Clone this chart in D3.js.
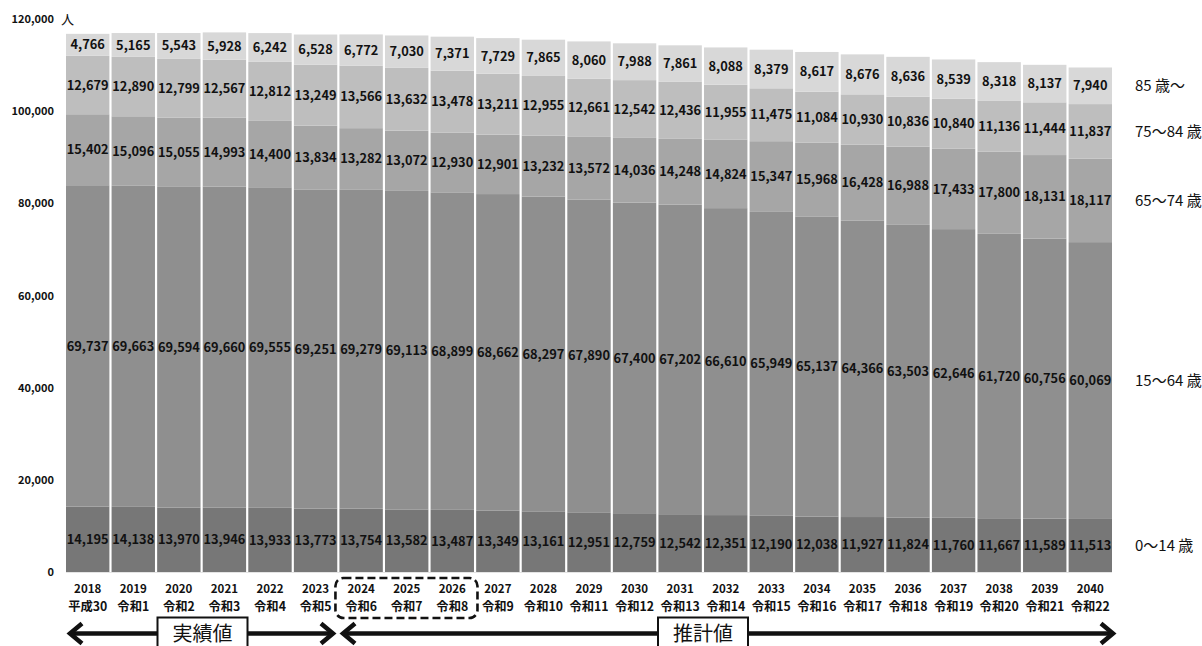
<!DOCTYPE html>
<html>
<head>
<meta charset="utf-8">
<script src="https://cdn.jsdelivr.net/npm/d3@7"></script>
<style>
  html, body { margin: 0; padding: 0; background: #fff; }
  svg { display: block; font-family: "Noto Sans CJK JP", "Noto Sans", sans-serif; }
</style>
</head>
<body>
<svg id="chart" width="1202" height="646"></svg>
<script>
// Population by age group, 2018–2040 (actual to 2023, projected afterwards)
const years = ["2018","2019","2020","2021","2022","2023","2024","2025","2026","2027","2028","2029","2030","2031","2032","2033","2034","2035","2036","2037","2038","2039","2040"];
const eras = ["平成30","令和1","令和2","令和3","令和4","令和5","令和6","令和7","令和8","令和9","令和10","令和11","令和12","令和13","令和14","令和15","令和16","令和17","令和18","令和19","令和20","令和21","令和22"];

const age0to14 = [14195,14138,13970,13946,13933,13773,13754,13582,13487,13349,13161,12951,12759,12542,12351,12190,12038,11927,11824,11760,11667,11589,11513];
const age15to64 = [69737,69663,69594,69660,69555,69251,69279,69113,68899,68662,68297,67890,67400,67202,66610,65949,65137,64366,63503,62646,61720,60756,60069];
const age65to74 = [15402,15096,15055,14993,14400,13834,13282,13072,12930,12901,13232,13572,14036,14248,14824,15347,15968,16428,16988,17433,17800,18131,18117];
const age75to84 = [12679,12890,12799,12567,12812,13249,13566,13632,13478,13211,12955,12661,12542,12436,11955,11475,11084,10930,10836,10840,11136,11444,11837];
const age85plus = [4766,5165,5543,5928,6242,6528,6772,7030,7371,7729,7865,8060,7988,7861,8088,8379,8617,8676,8636,8539,8318,8137,7940];

const seriesKeys = ["a0", "a15", "a65", "a75", "a85"];
const seriesNames = ["0～14 歳", "15～64 歳", "65～74 歳", "75～84 歳", "85 歳～"];
const seriesColors = ["#777777", "#8f8f8f", "#a6a6a6", "#bebebe", "#d8d8d8"];

const yTicks = [0, 20000, 40000, 60000, 80000, 100000, 120000];
const unitLabel = "人";
const actualLabel = "実績値";
const projectedLabel = "推計値";
const highlightYears = ["2024", "2026"];

const rows = years.map((y, i) => ({
  year: y, era: eras[i],
  a0: age0to14[i], a15: age15to64[i], a65: age65to74[i], a75: age75to84[i], a85: age85plus[i]
}));

const svg = d3.select("#chart");
const fmt = d3.format(",");

const x = d3.scaleBand().domain(years).range([66, 1112]).paddingInner(0.048).paddingOuter(0);
const y = d3.scaleLinear().domain([0, 120000]).range([572, 19]);

const stacked = d3.stack().keys(seriesKeys)(rows);

// stacked bars
const layers = svg.append("g").selectAll("g")
  .data(stacked).join("g")
  .attr("fill", (d, i) => seriesColors[i]);

layers.selectAll("rect")
  .data(d => d).join("rect")
  .attr("x", d => x(d.data.year))
  .attr("width", x.bandwidth())
  .attr("y", d => y(d[1]))
  .attr("height", d => y(d[0]) - y(d[1]));

// value labels centred in each segment
const labels = svg.append("g")
  .attr("font-size", "12.8px").attr("font-weight", "bold").attr("fill", "#111")
  .attr("text-anchor", "middle");
stacked.forEach(layer => {
  labels.selectAll(null).data(layer).join("text")
    .attr("x", d => x(d.data.year) + x.bandwidth() / 2)
    .attr("y", d => (y(d[0]) + y(d[1])) / 2)
    .attr("dy", "0.36em")
    .text(d => fmt(d[1] - d[0]));
});

// y axis (labels only)
const yAxis = svg.append("g").attr("transform", "translate(54,0)")
  .call(d3.axisLeft(y).tickValues(yTicks).tickFormat(fmt).tickSize(0).tickPadding(0));
yAxis.select(".domain").remove();
yAxis.selectAll("text")
  .attr("font-family", "'Noto Sans CJK JP', sans-serif")
  .attr("font-size", "11px").attr("font-weight", "bold").attr("fill", "#111");

svg.append("text").attr("x", 61).attr("y", 19).attr("dy", "0.36em")
  .attr("font-size", "13px").attr("fill", "#111").text(unitLabel);

// baseline
svg.append("line")
  .attr("x1", 66).attr("x2", 1112).attr("y1", y(0) + 0.5).attr("y2", y(0) + 0.5)
  .attr("stroke", "#e4e4e4").attr("stroke-width", 1);

// x axis: year and era labels
const xl = svg.append("g").attr("text-anchor", "middle").attr("fill", "#111").attr("font-weight", "bold");
xl.selectAll(".yr").data(rows).join("text").attr("class", "yr")
  .attr("x", d => x(d.year) + x.bandwidth() / 2).attr("y", 589).attr("dy", "0.36em")
  .attr("font-size", "11.5px").text(d => d.year);
xl.selectAll(".era").data(rows).join("text").attr("class", "era")
  .attr("x", d => x(d.year) + x.bandwidth() / 2).attr("y", 607).attr("dy", "0.36em")
  .attr("font-size", "12.3px").text(d => d.era);

// series names beside the last bar
const last = stacked.map(layer => layer[layer.length - 1]);
svg.append("g").attr("font-size", "15px").attr("fill", "#111")
  .selectAll("text").data(last).join("text")
  .attr("x", 1135)
  .attr("y", d => (y(d[0]) + y(d[1])) / 2)
  .attr("dy", "0.36em")
  .text((d, i) => seriesNames[i]);

// dashed frame around the plan period
const hx0 = x(highlightYears[0]) - 4;
const hx1 = x(highlightYears[1]) + x.bandwidth() + 3.5;
svg.append("rect")
  .attr("x", hx0).attr("y", 578).attr("width", hx1 - hx0).attr("height", 40)
  .attr("rx", 8).attr("ry", 8)
  .attr("fill", "none").attr("stroke", "#111").attr("stroke-width", 2.6)
  .attr("stroke-dasharray", "8,4");

// period arrows
const arrowY = 633.5;
function arrow(xa, xb) {
  const g = svg.append("g").attr("stroke", "#111").attr("stroke-width", 4.5).attr("fill", "none")
    .attr("stroke-linejoin", "miter").attr("stroke-linecap", "butt");
  g.append("line").attr("x1", xa + 2).attr("x2", xb - 2).attr("y1", arrowY).attr("y2", arrowY);
  g.append("polyline").attr("points", `${xa + 14},${arrowY - 10} ${xa + 2},${arrowY} ${xa + 14},${arrowY + 10}`);
  g.append("polyline").attr("points", `${xb - 14},${arrowY - 10} ${xb - 2},${arrowY} ${xb - 14},${arrowY + 10}`);
}
arrow(68, 335);
arrow(341, 1115);

function tagBox(cx, label) {
  svg.append("rect").attr("x", cx - 45).attr("y", 617.5).attr("width", 90).attr("height", 40)
    .attr("fill", "#fff").attr("stroke", "#111").attr("stroke-width", 2);
  svg.append("text").attr("x", cx).attr("y", 634).attr("dy", "0.36em")
    .attr("text-anchor", "middle").attr("font-size", "20px").attr("fill", "#111").text(label);
}
tagBox(202.5, actualLabel);
tagBox(703, projectedLabel);
</script>
</body>
</html>
